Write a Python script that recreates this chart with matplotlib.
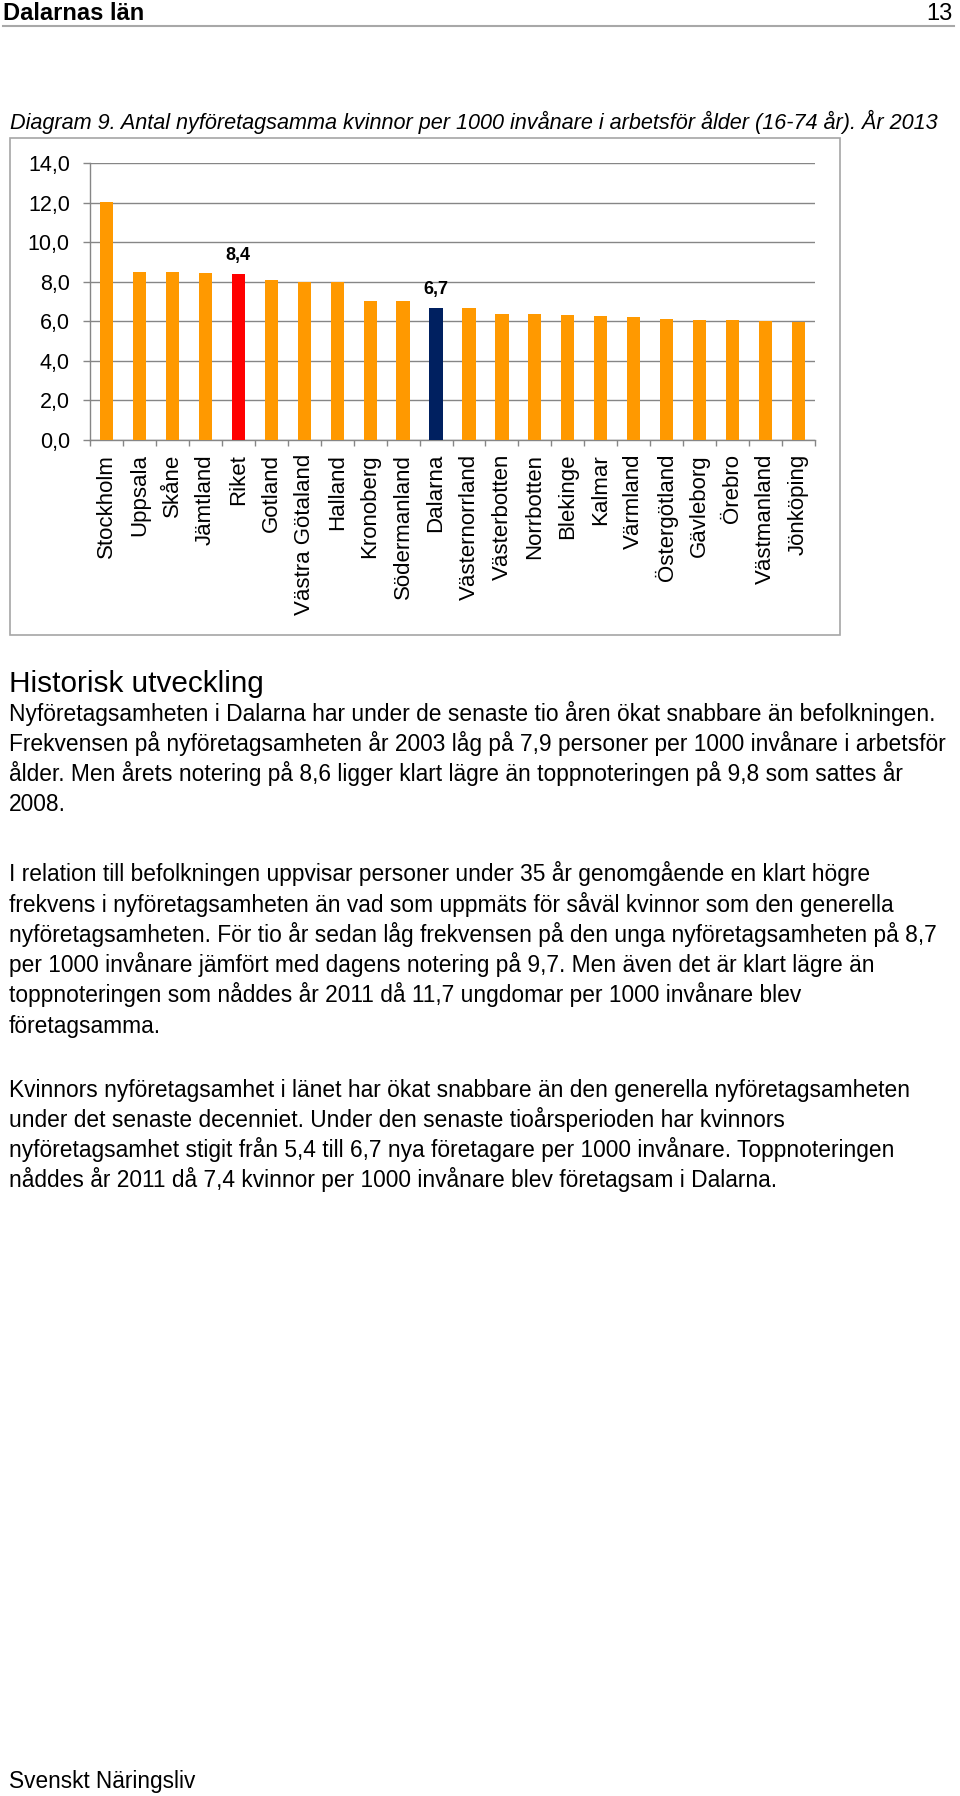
import matplotlib
matplotlib.use("Agg")
import matplotlib.pyplot as plt
from matplotlib.patches import Rectangle
from matplotlib.lines import Line2D
import numpy as np

plt.rcParams['font.family'] = ['Liberation Sans', 'DejaVu Sans']

# Data: new-entrepreneur women per 1000 inhabitants (16-74), 2013
regions = ["Stockholm", "Uppsala", "Skåne", "Jämtland", "Riket", "Gotland",
           "Västra Götaland", "Halland", "Kronoberg", "Södermanland", "Dalarna",
           "Västernorrland", "Västerbotten", "Norrbotten", "Blekinge", "Kalmar",
           "Värmland", "Östergötland", "Gävleborg", "Örebro", "Västmanland",
           "Jönköping"]
values = [12.06, 8.52, 8.52, 8.43, 8.38, 8.1, 8.01, 8.0, 7.03, 7.03, 6.7,
          6.66, 6.38, 6.37, 6.33, 6.28, 6.24, 6.11, 6.07, 6.05, 6.02, 5.95]
highlight = {"Riket": "#FF0000", "Dalarna": "#002060"}
yticks = [0, 2, 4, 6, 8, 10, 12, 14]

title = "Diagram 9. Antal nyföretagsamma kvinnor per 1000 invånare i arbetsför ålder (16-74 år). År 2013"
para1 = ["Nyföretagsamheten i Dalarna har under de senaste tio åren ökat snabbare än befolkningen.",
         "Frekvensen på nyföretagsamheten år 2003 låg på 7,9 personer per 1000 invånare i arbetsför",
         "ålder. Men årets notering på 8,6 ligger klart lägre än toppnoteringen på 9,8 som sattes år",
         "2008."]
para2 = ["I relation till befolkningen uppvisar personer under 35 år genomgående en klart högre",
         "frekvens i nyföretagsamheten än vad som uppmäts för såväl kvinnor som den generella",
         "nyföretagsamheten. För tio år sedan låg frekvensen på den unga nyföretagsamheten på 8,7",
         "per 1000 invånare jämfört med dagens notering på 9,7. Men även det är klart lägre än",
         "toppnoteringen som nåddes år 2011 då 11,7 ungdomar per 1000 invånare blev",
         "företagsamma."]
para3 = ["Kvinnors nyföretagsamhet i länet har ökat snabbare än den generella nyföretagsamheten",
         "under det senaste decenniet. Under den senaste tioårsperioden har kvinnors",
         "nyföretagsamhet stigit från 5,4 till 6,7 nya företagare per 1000 invånare. Toppnoteringen",
         "nåddes år 2011 då 7,4 kvinnor per 1000 invånare blev företagsam i Dalarna."]

W, H = 960, 1796
fig = plt.figure(figsize=(W / 100, H / 100), dpi=100)


def fx(x):
    return x / W


def fy(y):
    return 1 - y / H


def put(x, y, s, **kw):
    fig.text(fx(x), fy(y), s, va='baseline', **kw)


# page header
put(3, 19.5, "Dalarnas län", fontsize=17, fontweight='bold', ha='left')
put(953, 19.5, "13", fontsize=17, ha='right')
fig.add_artist(Line2D([fx(3), fx(954)], [fy(25.5), fy(25.5)], color='#a8a8a8', lw=1.5))

put(10, 128.5, title, fontsize=15.6, style='italic', ha='left')

# chart frame
fig.add_artist(Rectangle((fx(10), fy(635)), (840 - 10) / W, (635 - 137.5) / H,
                         transform=fig.transFigure, fill=False,
                         edgecolor='#a6a6a6', lw=1.2))

grid_col = '#868686'
ax = fig.add_axes([fx(90), fy(440), 725 / W, (440 - 163.3) / H])
x = np.arange(len(regions))
colors = [highlight.get(r, "#FF9900") for r in regions]
ax.bar(x, values, width=0.4, color=colors, zorder=3)

for i, (r, v) in enumerate(zip(regions, values)):
    if r in highlight:
        ax.annotate(f"{v:.1f}".replace(".", ","), (i, v), xytext=(0, 10),
                    textcoords='offset points', ha='center', va='baseline',
                    fontsize=13, fontweight='bold')

ax.set_xlim(-0.5, len(regions) - 0.5)
ax.set_ylim(0, 14)
ax.set_yticks(yticks)
ax.set_yticklabels([f"{t:.1f}".replace(".", ",") for t in yticks])
ax.yaxis.grid(True, color=grid_col, lw=1.0, zorder=0)
ax.set_xticks(x)
ax.set_xticklabels(regions, rotation=90, va='top', ha='center')
ax.set_xticks(np.arange(-0.5, len(regions)), minor=True)
ax.tick_params(axis='x', which='major', length=0, pad=10, labelsize=16)
ax.tick_params(axis='x', which='minor', length=4.3, color=grid_col, width=1.0)
ax.tick_params(axis='y', length=5, color=grid_col, width=1.0, pad=9.5, labelsize=15.5)
for s in ['top', 'right']:
    ax.spines[s].set_visible(False)
for s in ['left', 'bottom']:
    ax.spines[s].set_color(grid_col)
    ax.spines[s].set_linewidth(1.0)

# text below the chart
put(9, 692, "Historisk utveckling", fontsize=21.4, ha='left')
step = 30.2
for start, lines in [(720.8, para1), (881.5, para2), (1096.5, para3)]:
    for k, line in enumerate(lines):
        put(9, start + k * step, line, fontsize=16.4, ha='left')

put(9, 1788, "Svenskt Näringsliv", fontsize=16.3, ha='left')

fig.savefig("out.png", dpi=100)
